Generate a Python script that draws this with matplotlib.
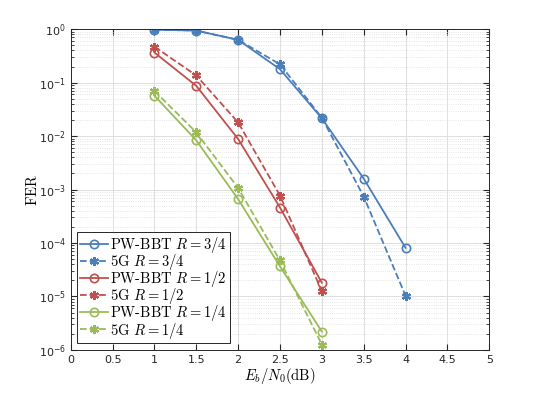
import matplotlib
matplotlib.use('Agg')
import matplotlib.pyplot as plt

plt.rcParams['mathtext.fontset'] = 'cm'
plt.rcParams['font.family'] = 'DejaVu Sans'

# Eb/N0 points (dB)
snr_34 = [1, 1.5, 2, 2.5, 3, 3.5, 4]
snr_12 = [1, 1.5, 2, 2.5, 3]
snr_14 = [1, 1.5, 2, 2.5, 3]

# FER values
pw_34 = [0.98, 0.94, 0.63, 0.178, 0.0215, 1.6e-3, 8.1e-5]
g5_34 = [0.98, 0.94, 0.63, 0.22, 0.022, 7.4e-4, 1.03e-5]
pw_12 = [0.365, 0.087, 0.0088, 4.6e-4, 1.8e-5]
g5_12 = [0.47, 0.136, 0.018, 7.7e-4, 1.25e-5]
pw_14 = [0.057, 0.0083, 6.6e-4, 3.65e-5, 2.2e-6]
g5_14 = [0.070, 0.0117, 1.07e-3, 4.7e-5, 1.26e-6]

blue = '#4a7ebb'
red = '#c0504d'
green = '#9bbb59'

star = (6, 2, 0)

fig = plt.figure(figsize=(5.4, 3.94), dpi=100)
ax = fig.add_axes([0.131, 0.112, 0.775, 0.814])

ax.semilogy(snr_34, pw_34, '-o', color=blue, mfc='none', ms=6, lw=1.3, mew=1.2,
            label=r'PW-BBT $R=3/4$')
ax.semilogy(snr_34, g5_34, '--', marker=star, color=blue, ms=6.5, lw=1.3, mew=1.6,
            label=r'5G $R=3/4$')
ax.semilogy(snr_12, pw_12, '-o', color=red, mfc='none', ms=6, lw=1.3, mew=1.2,
            label=r'PW-BBT $R=1/2$')
ax.semilogy(snr_12, g5_12, '--', marker=star, color=red, ms=6.5, lw=1.3, mew=1.6,
            label=r'5G $R=1/2$')
ax.semilogy(snr_14, pw_14, '-o', color=green, mfc='none', ms=6, lw=1.3, mew=1.2,
            label=r'PW-BBT $R=1/4$')
ax.semilogy(snr_14, g5_14, '--', marker=star, color=green, ms=6.5, lw=1.3, mew=1.6,
            label=r'5G $R=1/4$')

ax.set_xlim(0, 5)
ax.set_ylim(1e-6, 1)
ax.set_xticks([0, 0.5, 1, 1.5, 2, 2.5, 3, 3.5, 4, 4.5, 5])
ax.set_xticklabels(['0', '0.5', '1', '1.5', '2', '2.5', '3', '3.5', '4', '4.5', '5'])
ax.tick_params(which='both', direction='in', top=True, right=True, labelsize=8,
               color='#262626', labelcolor='#262626')
ax.tick_params(which='major', length=4)
ax.tick_params(which='minor', length=2)
ax.grid(True, which='major', color='#dedede', lw=0.7)
ax.grid(True, which='minor', color='#dedede', lw=0.6, ls=':')
for s in ax.spines.values():
    s.set_color('#262626')
    s.set_linewidth(0.7)

ax.set_xlabel(r'$E_b/N_0(\mathrm{dB})$', fontsize=10.5, labelpad=1)
ax.set_ylabel(r'$\mathrm{FER}$', fontsize=10.5, labelpad=-1)

leg = ax.legend(loc='lower left', bbox_to_anchor=(0.015, 0.02),
                prop={'family': 'cmr10', 'size': 10.5}, handlelength=1.9,
                handletextpad=0.15, borderpad=0.2, labelspacing=-0.2,
                borderaxespad=0.0,
                fancybox=False, framealpha=1, edgecolor='#262626')
leg.get_frame().set_linewidth(0.7)

fig.savefig('out.png', dpi=100)
